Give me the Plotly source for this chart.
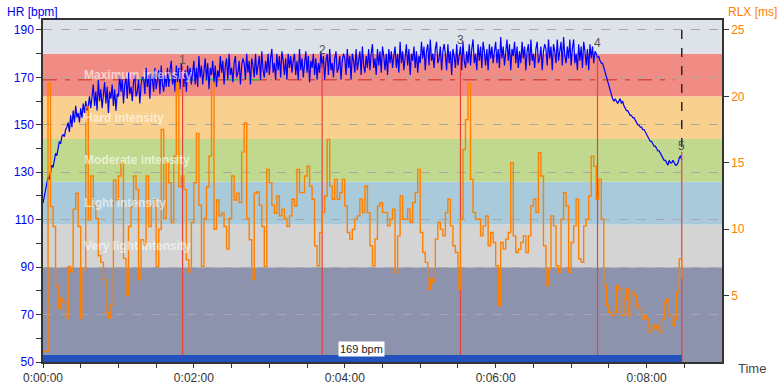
import plotly.graph_objects as go

# ---------------- data ----------------
# Heart rate, 1 sample per second from 0:00:00
hr = [
117,120,123,125,128,127,131,133,132,136,138,137,141,143,142,145,146,145,148,149,
151,147,154,149,156,151,158,153,155,151,157,153,159,155,160,156,158,162,157,163,
167,158,164,156,169,160,165,157,163,168,159,166,155,164,161,167,158,165,156,163,
162,171,164,169,159,167,170,161,172,163,166,160,168,171,162,164,169,159,167,170,
170,163,174,166,171,161,172,169,164,174,165,170,173,163,175,167,164,171,166,174,
166,173,177,167,171,164,175,168,174,165,176,172,166,173,164,175,169,174,167,172,
177,167,174,166,179,170,175,167,173,178,169,176,165,174,171,177,168,175,166,173,
170,179,172,177,167,175,178,169,180,171,174,168,176,179,170,172,177,167,175,178,
176,169,180,172,177,167,178,175,170,180,171,176,179,169,181,173,170,177,172,180,
171,178,182,172,176,169,180,173,179,170,181,177,171,178,169,180,174,179,172,177,
180,171,177,169,182,173,178,170,176,181,172,179,168,177,174,180,171,178,169,176,
172,181,174,179,169,177,180,171,182,173,176,170,178,181,172,174,179,169,177,180,
178,171,182,174,179,169,180,177,172,182,173,178,181,171,183,175,172,179,174,182,
173,180,184,174,178,171,182,175,181,172,183,179,173,180,171,182,176,181,174,179,
183,174,180,172,185,176,181,173,179,184,175,182,171,180,177,183,174,181,172,179,
176,185,178,183,173,181,184,175,186,177,180,174,182,185,176,178,183,173,181,184,
180,173,184,176,181,171,182,179,174,184,175,180,183,173,185,177,174,181,176,184,
175,182,186,176,180,173,184,177,183,174,185,181,175,182,173,184,178,183,176,181,
185,176,182,174,187,178,183,175,181,186,177,184,173,182,179,185,176,183,174,181,
176,185,178,183,173,181,184,175,186,177,180,174,182,185,176,178,183,173,181,184,
182,175,186,178,183,173,184,181,176,186,177,182,185,175,187,179,176,183,178,186,
175,182,186,176,180,173,184,177,183,174,185,181,175,182,173,184,178,183,176,181,
180,178,179,177,176,176,174,172,171,169,166,164,162,161,160,161,160,159,160,161,
159,160,158,157,156,156,155,154,154,153,153,152,151,150,150,149,149,148,148,147,
146,145,144,143,143,142,141,141,140,139,139,138,137,136,135,135,134,133,135,134,
134,135,134,133,133,134,136,137,135,
]
hr_time = list(range(len(hr)))

# RLX, 1 sample every 2 seconds
rlx = [
0.8,0.8,21,11.7,10.2,5.7,4.0,4.8,4.5,3.3,
7.2,6.8,11.5,12.7,10.2,3.3,7.0,19.2,10.7,14.0,
11.8,10.8,8.0,7.5,6.2,3.7,3.3,4.3,13.7,12.2,
14.0,15.0,7.8,5.0,10.2,11.7,14.0,13.0,6.2,9.2,
8.8,14.0,10.2,11.8,12.2,7.2,10.0,17.5,10.8,15.0,
13.5,10.5,15.5,21.0,13.2,14.0,13.0,7.7,6.8,10.5,
13.5,17.2,11.8,7.2,10.8,13.2,15.5,21.0,10.0,12.2,
11.0,11.2,10.2,8.5,10.8,14.0,12.2,12.7,12.0,15.8,
18.0,10.8,9.2,6.2,12.7,12.8,11.8,10.2,7.2,14.5,
13.5,11.8,11.2,12.5,11.0,11.5,10.8,10.2,11.0,
12.25,11.75,14.5,12.75,12.75,14,14.75,13.25,12.25,8.75,
7.25,9.75,11.25,12.5,16.75,13.25,12.25,13.75,12.25,12.75,
13.75,11.75,9.75,9.25,10,10.75,11,12.25,11.25,13.25,
11.25,8.75,7.25,9.25,11.75,12,11.25,11.25,10.25,10.75,
11.5,6.75,9.5,12.5,10.75,10.75,11.5,10.5,12,12.75,
14.5,9.75,8.25,7.5,5.5,6.25,6,9.25,10.5,10,
9.5,11.25,12.25,10.25,8.75,8.25,5.5,10.75,16,18.25,
21,13.75,11.25,10.75,10.75,9.5,10.25,11,8.75,9.75,
9,7.25,4.25,9,8.5,9.25,9.75,15,9.5,8.25,
8.5,9,9.5,8.25,9.5,11.75,12.25,
11.25,15.75,14,8.75,5.75,7,11,10.25,7.25,6.75,
10.75,12.75,11.75,6.75,9,10.25,12.25,7.75,7.5,10.25,
10.75,12.5,15.5,14.75,12.25,13.75,10.75,5.75,4.25,3.75,
3.5,3.75,5.75,5.5,3.5,4.75,5.5,3.5,5.25,5,
4.25,4,3.25,3.5,3.25,2.25,2.75,2.5,2.75,2.25,
3.25,4.5,4.75,3.5,2.75,3.25,5.25,7.75,6.25,
]
rlx_time = [2 * i for i in range(len(rlx))]

# Heart-rate zones (bpm) and names
zone_lower = [50, 90, 108, 126, 144, 162, 180]
zone_upper = [90, 108, 126, 144, 162, 180, 194.2]
zone_names = ["", "Very light intensity", "Light intensity", "Moderate intensity",
              "Hard intensity", "Maximum intensity", ""]
zone_colors = ["#8D92AD", "#D4D4D4", "#A9CADB", "#C1D98E", "#F9D08E", "#F18C84", "#DEE3EA"]

# Laps
lap_times = [111, 222, 332, 441, 508]
lap_top_hr = [174.5, 176, 179.4, 178.6, 138.6]
lap_label_hr = [177.5, 181.5, 185.8, 184.5, 141]
lap_labels = ["1", "2", "3", "4", "5"]

avg_hr = 169
avg_label = "169 bpm"
end_time = 508

x_tickvals = [0, 120, 240, 360, 480]
x_ticktext = ["0:00:00", "0:02:00", "0:04:00", "0:06:00", "0:08:00"]
x_minor = [30, 60, 90, 150, 180, 210, 270, 300, 330, 390, 420, 450, 510]
hr_ticks = [50, 70, 90, 110, 130, 150, 170, 190]
hr_minor = [60, 80, 100, 120, 140, 160, 180]
rlx_ticks = [5, 10, 15, 20, 25]

# ---------------- figure ----------------
FONT = "Arial, Liberation Sans, sans-serif"
fig = go.Figure()

shapes = []
for lo, up, col in zip(zone_lower, zone_upper, zone_colors):
    shapes.append(dict(type="rect", xref="paper", yref="y", x0=0, x1=1, y0=lo, y1=up,
                       fillcolor=col, line=dict(width=0), layer="below"))
# bottom bar
shapes.append(dict(type="rect", xref="x", yref="y", x0=0, x1=end_time, y0=50, y1=52.9,
                   fillcolor="#2351BD", line=dict(width=0), layer="above"))
# end dashed marker
shapes.append(dict(type="line", xref="x", yref="y", x0=end_time, x1=end_time, y0=190, y1=lap_top_hr[-1],
                   line=dict(color="#2E2638", width=1.5, dash="dash"), layer="above"))

annotations = []
for lo, up, name in zip(zone_lower, zone_upper, zone_names):
    if name:
        annotations.append(dict(x=31, y=(lo + up) / 2, xref="x", yref="y", text="<b>" + name + "</b>",
                                showarrow=False, xanchor="left", yanchor="middle",
                                font=dict(family=FONT, size=12, color="rgba(255,255,255,0.62)")))

# RLX trace
fig.add_trace(go.Scatter(x=rlx_time, y=rlx, yaxis="y2", mode="lines",
                         line=dict(color="#FF8000", width=1.4, shape="hv"), hoverinfo="skip"))

# average line (dash-dot red) and green lap average segment
fig.add_trace(go.Scatter(x=[0, 502], y=[avg_hr, avg_hr], mode="lines",
                         line=dict(color="#D84A40", width=1.5, dash="14px,8px,5px,8px"), hoverinfo="skip"))
fig.add_trace(go.Scatter(x=[76, 182], y=[avg_hr, avg_hr], mode="lines",
                         line=dict(color="#2FBF4A", width=1.5, dash="12px,10px"), hoverinfo="skip"))

# HR trace
fig.add_trace(go.Scatter(x=hr_time, y=hr, mode="lines",
                         line=dict(color="#0000FF", width=1.2), hoverinfo="skip"))

# lap lines
for t, top, lab_y, lab in zip(lap_times, lap_top_hr, lap_label_hr, lap_labels):
    fig.add_trace(go.Scatter(x=[t, t], y=[50, top], mode="lines",
                             line=dict(color="#E8423C", width=1.2), hoverinfo="skip"))
    annotations.append(dict(x=t, y=lab_y, xref="x", yref="y", text=lab, showarrow=False,
                            font=dict(family=FONT, size=12, color="#555555")))

annotations.append(dict(x=253, y=55.6, xref="x", yref="y", text=avg_label, showarrow=False,
                        bgcolor="white", borderpad=1,
                        font=dict(family=FONT, size=11, color="#222222")))

# axis titles
annotations.append(dict(x=0, y=1, xref="paper", yref="paper", text="HR [bpm]", showarrow=False,
                        xanchor="left", yanchor="middle", xshift=-38, yshift=8,
                        font=dict(family=FONT, size=12, color="#0000EE")))
annotations.append(dict(x=1, y=1, xref="paper", yref="paper", text="RLX [ms]", showarrow=False,
                        xanchor="left", yanchor="middle", xshift=4, yshift=8,
                        font=dict(family=FONT, size=12, color="#FF8000")))
annotations.append(dict(x=1, y=0, xref="paper", yref="paper", text="Time", showarrow=False,
                        xanchor="left", yanchor="middle", xshift=14, yshift=-6,
                        font=dict(family=FONT, size=13, color="#444444")))

fig.update_layout(
    width=780, height=387,
    margin=dict(l=43, r=58, t=20, b=25, autoexpand=False),
    paper_bgcolor="white", plot_bgcolor="white",
    showlegend=False,
    shapes=shapes, annotations=annotations,
    xaxis=dict(range=[0, 540], tickmode="array", tickvals=x_tickvals, ticktext=x_ticktext,
               automargin=False,
               ticks="outside", ticklen=4, tickcolor="#333333", showgrid=False, zeroline=False,
               showline=True, linecolor="#333333", linewidth=1.5, mirror=True,
               tickfont=dict(family=FONT, size=12, color="#333333"),
               minor=dict(tickmode="array", tickvals=x_minor, ticks="outside", ticklen=4,
                          tickcolor="#333333")),
    yaxis=dict(range=[50, 194.2], tickmode="array", tickvals=hr_ticks, ticks="outside",
               automargin=False,
               ticklen=5, tickcolor="#333333", showline=True, linecolor="#333333", linewidth=1.5,
               showgrid=True, gridcolor="#A8A8A8", griddash="dash", gridwidth=1, zeroline=False,
               tickfont=dict(family=FONT, size=12, color="#0000EE"),
               minor=dict(tickmode="array", tickvals=hr_minor, ticks="outside", ticklen=5,
                          tickcolor="#333333", showgrid=False)),
    yaxis2=dict(range=[0, 25.75], overlaying="y", side="right", tickmode="array", tickvals=rlx_ticks,
                automargin=False,
                ticks="outside", ticklen=5, tickcolor="#333333", showline=True, linecolor="#333333",
                linewidth=1.5, showgrid=False, zeroline=False,
                tickfont=dict(family=FONT, size=12, color="#FF8000")),
)

fig.write_html("out.html", config={"displayModeBar": False},
               post_script="document.body.style.margin='0px';document.body.style.overflow='hidden';")
